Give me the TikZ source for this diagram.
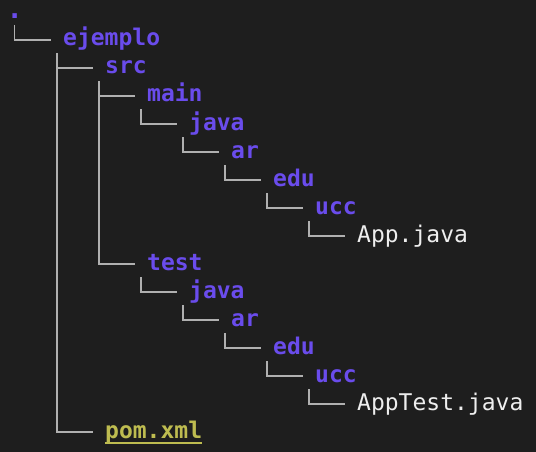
\documentclass[tikz,border=0pt]{standalone}
\usepackage{fontspec}
\newfontfamily\monofont{DejaVu Sans Mono}
\definecolor{bgcol}{HTML}{1E1E1E}
\definecolor{dircol}{HTML}{6A4CEC}
\definecolor{filecol}{HTML}{EEEEEE}
\definecolor{pomcol}{HTML}{BEBC50}
\definecolor{linecol}{HTML}{B0B0B0}
\tikzset{
  entry/.style={anchor=base west, inner sep=0pt, text height=17pt, text depth=5pt,
    font=\monofont\fontsize{23}{27}\selectfont},
  dir/.style={entry, text=dircol, font=\monofont\bfseries\fontsize{23}{27}\selectfont},
  file/.style={entry, text=filecol},
  pom/.style={entry, text=pomcol, font=\monofont\bfseries\fontsize{23}{27}\selectfont},
  tree/.style={draw=linecol, line width=1.3pt},
}
\newcommand{\branch}[2]{\draw[tree] ([shift={(-6pt,-2pt)}]#1.south west) |- ([xshift=-12pt]#2.west);}
\begin{document}
\begin{tikzpicture}[x=1pt,y=-1pt]
\useasboundingbox (0,0) rectangle (536,452);
\fill[bgcol] (0,0) rectangle (536,452);
\node[dir, anchor=base, text height=6pt, text depth=0pt, font=\monofont\bfseries\fontsize{27}{30}\selectfont] (root) at (14.7,19) {.};
\node[dir] (ejemplo) at (63,46) {ejemplo};
\node[dir] (src) at (105,74) {src};
\node[dir] (main) at (147,102) {main};
\node[dir] (mjava) at (189,130) {java};
\node[dir] (mar) at (231,158) {ar};
\node[dir] (medu) at (273,186) {edu};
\node[dir] (mucc) at (315,214) {ucc};
\node[file] (app) at (357,242) {App.java};
\node[dir] (test) at (147,270) {test};
\node[dir] (tjava) at (189,298) {java};
\node[dir] (tar) at (231,326) {ar};
\node[dir] (tedu) at (273,354) {edu};
\node[dir] (tucc) at (315,382) {ucc};
\node[file] (apptest) at (357,410) {AppTest.java};
\node[pom] (pomxml) at (105,438) {pom.xml};
\draw[pomcol, line width=1.6pt] ([yshift=-5pt]pomxml.base west) -- ([yshift=-5pt]pomxml.base east);
\draw[tree] ([yshift=-6pt]root.base) |- ([xshift=-12pt]ejemplo.west);
\branch{ejemplo}{src}
\branch{ejemplo}{pomxml}
\branch{src}{main}
\branch{src}{test}
\branch{main}{mjava}
\branch{mjava}{mar}
\branch{mar}{medu}
\branch{medu}{mucc}
\branch{mucc}{app}
\branch{test}{tjava}
\branch{tjava}{tar}
\branch{tar}{tedu}
\branch{tedu}{tucc}
\branch{tucc}{apptest}
\end{tikzpicture}
\end{document}
